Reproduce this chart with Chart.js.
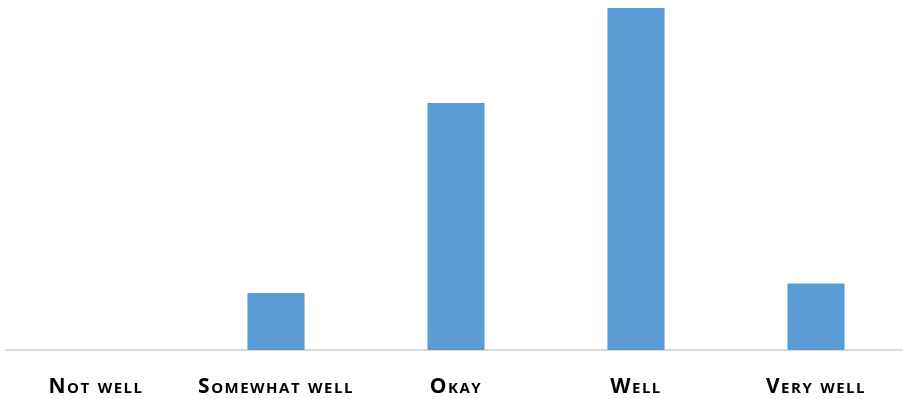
<!DOCTYPE html>
<html>
<head>
<meta charset="utf-8">
<script src="https://cdn.jsdelivr.net/npm/chart.js@4/dist/chart.umd.min.js"></script>
<style>
  html, body { margin: 0; padding: 0; background: #ffffff; overflow: hidden; }
  #wrap { width: 912px; height: 399px; position: relative; }
</style>
</head>
<body>
<div id="wrap"><canvas id="c" width="912" height="399"></canvas></div>
<script>
const categories = ["Not well", "Somewhat well", "Okay", "Well", "Very well"];
const responses = [0, 6, 26, 36, 7];
const yMax = 36;

const spacing = {
  id: 'labelSpacing',
  beforeDraw(chart) { chart.ctx.letterSpacing = '1.5px'; },
  afterDraw(chart) { chart.ctx.letterSpacing = '0px'; }
};

new Chart(document.getElementById('c'), {
  type: 'bar',
  data: {
    labels: categories,
    datasets: [{
      data: responses,
      backgroundColor: '#5B9BD5',
      borderWidth: 0,
      categoryPercentage: 1,
      barPercentage: 0.317
    }]
  },
  plugins: [spacing],
  options: {
    responsive: false,
    animation: false,
    layout: { padding: { left: 6, right: 6, top: 8, bottom: 0 } },
    plugins: { legend: { display: false }, tooltip: { enabled: false } },
    scales: {
      x: {
        grid: { display: false, drawTicks: false },
        border: { display: true, color: '#d9d9d9', width: 2 },
        ticks: {
          color: '#000000',
          padding: 24,
          maxRotation: 0,
          autoSkip: false,
          font: { family: 'Open Sans', size: 21, weight: 'small-caps bold' }
        },
        afterFit: (s) => { s.height = 49; }
      },
      y: {
        display: false,
        min: 0,
        max: yMax
      }
    }
  }
});
</script>
</body>
</html>
